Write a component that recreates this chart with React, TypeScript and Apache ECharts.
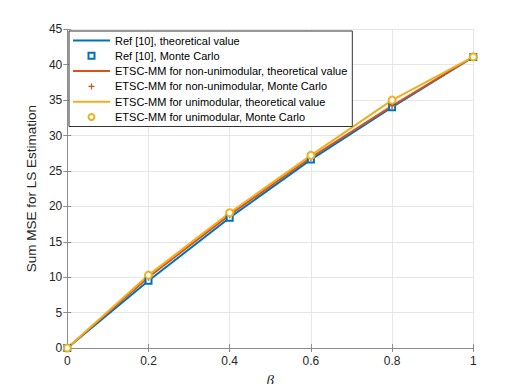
import React, { useEffect, useRef } from "react";
import * as echarts from "echarts";

const betaValues = [0, 0.2, 0.4, 0.6, 0.8, 1];
const refValues = [0, 9.5, 18.4, 26.6, 34.0, 41.1];
const nonUniValues = [0, 10.0, 18.8, 26.9, 34.2, 41.1];
const uniValues = [0, 10.3, 19.1, 27.2, 35.0, 41.1];
const seriesNames = [
  "Ref [10], theoretical value",
  "Ref [10], Monte Carlo",
  "ETSC-MM for non-unimodular, theoretical value",
  "ETSC-MM for non-unimodular, Monte Carlo",
  "ETSC-MM for unimodular, theoretical value",
  "ETSC-MM for unimodular, Monte Carlo",
];

const BLUE = "#0072BD";
const ORANGE = "#D95319";
const YELLOW = "#EDB120";
const FONT = "Liberation Sans, Arial, sans-serif";
const AXIS_COLOR = "#8c8c8c";
const TEXT_COLOR = "#262626";
const GRID_COLOR = "#e6e6e6";

const pairs = (ys: number[]) => betaValues.map((x, i) => [x, ys[i]]);
const PLUS = "path://M4,0H6V4H10V6H6V10H4V6H0V4H4Z";
const LINE_ICON = "path://M0,0H37V2H0Z";

export default function App() {
  const ref = useRef<HTMLDivElement>(null);
  useEffect(() => {
    const chart = echarts.init(ref.current!, undefined, { renderer: "svg" });
    const lineSeries = (name: string, ys: number[], color: string) => ({
      name,
      type: "line",
      data: pairs(ys),
      symbol: "none",
      clip: false,
      lineStyle: { color, width: 2 },
      itemStyle: { color },
    });
    const markSeries = (name: string, ys: number[], color: string, symbol: string, size: number, filled: boolean) => ({
      name,
      type: "line",
      data: pairs(ys),
      symbol,
      symbolSize: size,
      showAllSymbol: true,
      clip: false,
      lineStyle: { color, width: 0, opacity: 0 },
      itemStyle: filled
        ? { color, borderWidth: 0 }
        : { color, borderColor: color, borderWidth: 2 },
    });
    const legendData = seriesNames.map((name, i) =>
      i % 2 === 0 ? { name, icon: LINE_ICON } : { name }
    );
    chart.setOption({
      animation: false,
      grid: { left: 67.3, right: 49.7, top: 29.3, bottom: 43.5, containLabel: false },
      legend: {
        orient: "vertical",
        left: 69,
        top: 31,
        padding: [4, 5, 4, 4],
        itemWidth: 37,
        itemHeight: 7.5,
        itemGap: 4.3,
        symbolKeepAspect: true,
        backgroundColor: "#fff",
        borderColor: "#333",
        borderWidth: 1,
        textStyle: { fontFamily: FONT, fontSize: 11, color: "#000", lineHeight: 11 },
        data: legendData,
      },
      xAxis: [
        {
          type: "value",
          min: 0,
          max: 1,
          interval: 0.2,
          position: "bottom",
          name: "β",
          nameLocation: "middle",
          nameGap: 24,
          nameTextStyle: { fontFamily: "Liberation Serif, serif", fontSize: 15, fontStyle: "italic", color: TEXT_COLOR },
          axisLine: { show: true, lineStyle: { color: AXIS_COLOR, width: 1 } },
          axisTick: { show: true, inside: true, length: 4, lineStyle: { color: AXIS_COLOR } },
          axisLabel: {
            margin: 7,
            fontFamily: FONT,
            fontSize: 12,
            color: TEXT_COLOR,
            formatter: (v: number) => String(Math.round(v * 10) / 10),
          },
          splitLine: { show: true, lineStyle: { color: GRID_COLOR, width: 1 } },
        },
        {
          type: "value",
          min: 0,
          max: 1,
          interval: 0.2,
          position: "top",
          axisLine: { show: true, lineStyle: { color: AXIS_COLOR, width: 1 } },
          axisTick: { show: true, inside: true, length: 4, lineStyle: { color: AXIS_COLOR } },
          axisLabel: { show: false },
          splitLine: { show: false },
        },
      ],
      yAxis: [
        {
          type: "value",
          min: 0,
          max: 45,
          interval: 5,
          position: "left",
          name: "Sum MSE for LS Estimation",
          nameLocation: "middle",
          nameGap: 26,
          nameTextStyle: { fontFamily: FONT, fontSize: 13.5, color: TEXT_COLOR },
          axisLine: { show: true, lineStyle: { color: AXIS_COLOR, width: 1 } },
          axisTick: { show: true, inside: true, length: 4, lineStyle: { color: AXIS_COLOR } },
          axisLabel: { margin: 5, fontFamily: FONT, fontSize: 12, color: TEXT_COLOR },
          splitLine: { show: true, lineStyle: { color: GRID_COLOR, width: 1 } },
        },
        {
          type: "value",
          min: 0,
          max: 45,
          interval: 5,
          position: "right",
          axisLine: { show: true, lineStyle: { color: AXIS_COLOR, width: 1 } },
          axisTick: { show: true, inside: true, length: 4, lineStyle: { color: AXIS_COLOR } },
          axisLabel: { show: false },
          splitLine: { show: false },
        },
      ],
      series: [
        lineSeries(seriesNames[0], refValues, BLUE),
        markSeries(seriesNames[1], refValues, BLUE, "emptyRect", 6, false),
        lineSeries(seriesNames[2], nonUniValues, ORANGE),
        markSeries(seriesNames[3], nonUniValues, ORANGE, PLUS, 7, true),
        lineSeries(seriesNames[4], uniValues, YELLOW),
        markSeries(seriesNames[5], uniValues, YELLOW, "emptyCircle", 7, false),
      ],
    });
    return () => chart.dispose();
  }, []);
  return <div ref={ref} style={{ width: 523, height: 392, margin: -8 }} />;
}
